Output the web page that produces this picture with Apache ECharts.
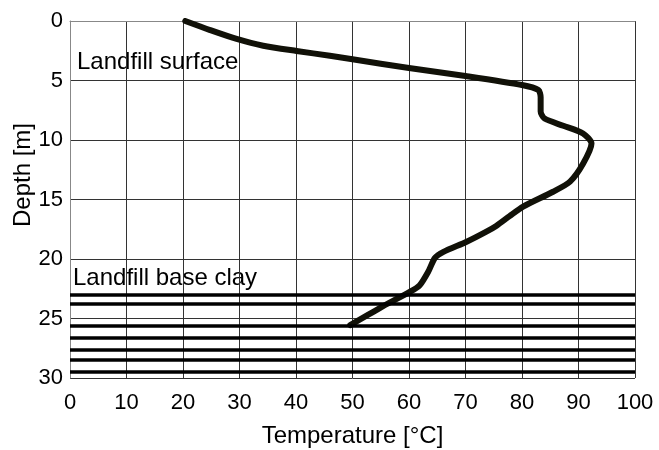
<!DOCTYPE html>
<html>
<head>
<meta charset="utf-8">
<script src="https://cdn.jsdelivr.net/npm/echarts@6/dist/echarts.min.js"></script>
<style>html,body{margin:0;padding:0;background:#fff}#c{width:659px;height:450px}</style>
</head>
<body>
<div id="c"></div>
<script>
// Temperature profile: [temperature °C, depth m]
const profileTemp  = [20.4, 24.8, 29.5, 34.2, 40.1, 46, 50, 60, 70, 80, 82.9, 83.3, 83.3, 84, 87.3, 90.8, 92.3, 90.8, 88.5, 85.5, 80.2, 77.8, 75.5, 73.7, 70.2, 66.1, 64.6, 63.4, 61.9, 60.2, 54.9, 49.6];
const profileDepth = [0, 0.76, 1.51, 2.08, 2.52, 2.92, 3.22, 3.95, 4.62, 5.38, 5.8, 6.4, 7.6, 8.2, 8.8, 9.45, 10.3, 12.0, 13.5, 14.35, 15.6, 16.4, 17.2, 17.7, 18.55, 19.4, 19.9, 21.07, 22.2, 22.75, 24.1, 25.55];
// Landfill base clay layer lines (depth m)
const clayDepths = [23.0, 23.8, 25.6, 26.6, 27.6, 28.5, 29.5];
const xTicks = [0, 10, 20, 30, 40, 50, 60, 70, 80, 90, 100];
const yTicks = [0, 5, 10, 15, 20, 25, 30];
const labelSurface = 'Landfill surface';
const labelClay = 'Landfill base clay';

const FONT = '"Liberation Sans", Arial, sans-serif';
const chart = echarts.init(document.getElementById('c'), null, {renderer: 'canvas'});
const profile = profileTemp.map((t, i) => [t, profileDepth[i]]);

chart.setOption({
  animation: false,
  backgroundColor: '#fff',
  grid: {left: 70, right: 24, top: 21, bottom: 72, containLabel: false, outerBoundsMode: 'none'},
  xAxis: {
    type: 'value', min: xTicks[0], max: xTicks[xTicks.length - 1], interval: 10,
    name: 'Temperature [°C]', nameLocation: 'middle', nameGap: 46,
    nameTextStyle: {fontFamily: FONT, fontSize: 24, color: '#000'},
    axisLine: {show: true, lineStyle: {color: '#888', width: 1}},
    axisTick: {show: false},
    axisLabel: {fontFamily: FONT, fontSize: 22, color: '#000', margin: 14},
    splitLine: {show: true, lineStyle: {color: '#333', width: 1}}
  },
  yAxis: {
    type: 'value', inverse: true, min: yTicks[0], max: yTicks[yTicks.length - 1], interval: 5,
    axisLine: {show: true, lineStyle: {color: '#888', width: 1}},
    axisTick: {show: false},
    axisLabel: {fontFamily: FONT, fontSize: 22, color: '#000', margin: 7},
    splitLine: {show: true, lineStyle: {color: '#333', width: 1}}
  },
  graphic: [
    {type: 'text', left: 11, top: 123, rotation: Math.PI / 2,
     style: {text: 'Depth [m]', fontFamily: FONT, fontSize: 24, fill: '#000'}},
    {type: 'text', left: 77, top: 50, style: {text: labelSurface, fontFamily: FONT, fontSize: 24, fill: '#000'}},
    {type: 'text', left: 73, top: 266, style: {text: labelClay, fontFamily: FONT, fontSize: 24, fill: '#000'}}
  ],
  series: [
    {
      type: 'line', data: [], symbol: 'none',
      markLine: {
        silent: true, symbol: ['none', 'none'], label: {show: false},
        lineStyle: {color: '#000', width: 3.5, type: 'solid'},
        data: clayDepths.map(d => ({yAxis: d}))
      }
    },
    {
      type: 'line', data: profile, symbol: 'none', smooth: 0.25,
      lineStyle: {color: '#111108', width: 6, cap: 'round', join: 'round'}
    }
  ]
});
</script>
</body>
</html>
